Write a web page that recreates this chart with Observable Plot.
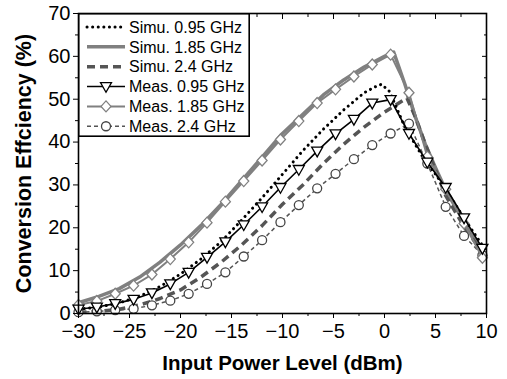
<!DOCTYPE html>
<html><head><meta charset="utf-8">
<script src="https://cdn.jsdelivr.net/npm/d3@7"></script>
<script src="https://cdn.jsdelivr.net/npm/@observablehq/plot@0.6"></script>
<style>
body{margin:0;background:#fff;font-family:"Liberation Sans",Arial,sans-serif;}
#wrap{position:relative;width:507px;height:379px;}
#legend{position:absolute;left:78px;top:12.5px;}
</style></head><body><div id="wrap"></div>
<script>
// ---- data ----
const measX = [-30, -28.2, -26.4, -24.6, -22.8, -21, -19.2, -17.4, -15.6, -13.8, -12, -10.2, -8.4, -6.6, -4.8, -3, -1.2, 0.6, 2.4, 4.2, 6, 7.8, 9.6];
const meas095 = [1.0, 1.5, 2.3, 3.3, 4.8, 6.9, 9.6, 13.1, 16.7, 20.7, 24.9, 29.4, 33.6, 37.9, 41.9, 45.3, 49.1, 49.9, 42.0, 35.3, 29.4, 22.3, 15.2];
const meas185 = [2.0, 2.9, 4.6, 6.5, 9.1, 12.7, 16.6, 21.2, 26.1, 30.9, 35.7, 40.6, 44.9, 49.1, 52.3, 55.3, 58.1, 60.4, 51.5, 36.6, 29.0, 21.0, 13.0];
const meas24  = [0.3, 0.5, 0.8, 1.1, 1.9, 3.0, 4.6, 6.9, 9.6, 13.3, 17.1, 21.3, 25.3, 29.2, 32.6, 36.0, 39.3, 42.0, 44.3, 35.0, 24.9, 18.1, 13.6];

const simu095X = [-30, -28, -26, -24, -22, -20, -18, -16, -14, -12, -10, -8, -6, -4, -2, -1, -0.3, 0.5, 1, 2, 3, 4, 5, 6, 8, 10];
const simu095  = [1.0, 1.5, 2.5, 4.0, 6.3, 9.2, 12.7, 16.8, 21.8, 27, 32.5, 38, 43, 47.5, 51.5, 52.8, 53.5, 51.8, 49, 43.5, 39.5, 35.5, 32.5, 29, 21.5, 14.5];
const simu185X = [-30, -28, -26, -24, -22, -20, -18, -16, -14, -12, -10, -8, -6, -4, -2, 0, 0.9, 2, 3, 4, 5, 6, 8, 10];
const simu185  = [2.5, 4, 5.8, 8.5, 12, 16, 20.5, 25.5, 31, 36.5, 42, 46.5, 51, 54.5, 57.5, 60, 61, 53.5, 46, 39.5, 34, 28.8, 20.5, 13.2];
const simu24X  = [-30, -28, -26, -24, -22, -20, -18, -16, -14, -12, -10, -8, -6, -4, -2, 0, 1, 2.2, 3, 4, 5, 6, 8, 10];
const simu24   = [0.3, 0.5, 1, 2, 3.5, 5.5, 8.5, 12, 16, 20.5, 25.5, 30, 35, 39.5, 43.5, 47, 48.5, 50.3, 46, 39.5, 33.5, 27.5, 19.5, 13];

const xTicks = [-30, -25, -20, -15, -10, -5, 0, 5, 10];
const xMinor = [-27.5, -22.5, -17.5, -12.5, -7.5, -2.5, 2.5, 7.5];
const yTicks = [0, 10, 20, 30, 40, 50, 60, 70];
const yMinor = [5, 15, 25, 35, 45, 55, 65];

const legendLabels = ["Simu. 0.95 GHz", "Simu. 1.85 GHz", "Simu. 2.4 GHz", "Meas. 0.95 GHz", "Meas. 1.85 GHz", "Meas. 2.4 GHz"];
const xTitle = "Input Power Level (dBm)";
const yTitle = "Conversion Effciency (%)";

// ---- styles ----
const GREY = "#808080", DARK = "#555555";
const triDown = {draw(ctx, size){const r=Math.sqrt(size/Math.PI); ctx.moveTo(-r*1.1,-r*0.8); ctx.lineTo(r*1.1,-r*0.8); ctx.lineTo(0,r*1.15); ctx.closePath();}};
const diam = {draw(ctx, size){const r=Math.sqrt(size/Math.PI); ctx.moveTo(0,-r*1.1); ctx.lineTo(r,0); ctx.lineTo(0,r*1.1); ctx.lineTo(-r,0); ctx.closePath();}};
const circ = {draw(ctx, size){const r=Math.sqrt(size/Math.PI)*0.9; ctx.moveTo(r,0); ctx.arc(0,0,r,0,2*Math.PI);}};

const zip = (xs, ys) => xs.map((x,i)=>({x, y: ys[i]}));
const s095 = zip(simu095X, simu095), s185 = zip(simu185X, simu185), s24 = zip(simu24X, simu24);
const m095 = zip(measX, meas095), m185 = zip(measX, meas185), m24 = zip(measX, meas24);

const series = [
  {label: legendLabels[0], stroke:"#000", width:3, dash:"0.1 5.5", cap:"round"},
  {label: legendLabels[1], stroke:GREY, width:3.5, dash:null, cap:"butt"},
  {label: legendLabels[2], stroke:DARK, width:3.5, dash:"8 5", cap:"butt"},
  {label: legendLabels[3], stroke:"#000", width:1.6, dash:null, cap:"butt", sym:triDown, mstroke:"#000"},
  {label: legendLabels[4], stroke:GREY, width:2, dash:null, cap:"butt", sym:diam, mstroke:GREY},
  {label: legendLabels[5], stroke:DARK, width:1.5, dash:"4 3", cap:"butt", sym:circ, mstroke:"#444"}
];
const lineOpts = s => ({x:"x", y:"y", stroke:s.stroke, strokeWidth:s.width, strokeDasharray:s.dash, strokeLinecap:s.cap});
const dotOpts = s => ({x:"x", y:"y", symbol:s.sym, r:5, fill:"white", stroke:s.mstroke, strokeWidth:1.3});

const chart = Plot.plot({
  width: 507, height: 379,
  marginLeft: 78, marginRight: 21, marginTop: 13, marginBottom: 66,
  style: {fontFamily: "Liberation Sans, Arial, sans-serif", fontSize: "20px", color: "black", background: "white", overflow: "visible"},
  x: {domain: [-30, 10]},
  y: {domain: [0, 70]},
  marks: [
    Plot.line(s185, lineOpts(series[1])),
    Plot.line(s24, lineOpts(series[2])),
    Plot.line(s095, lineOpts(series[0])),
    Plot.line(m24, lineOpts(series[5])),
    Plot.dot(m24, dotOpts(series[5])),
    Plot.line(m185, lineOpts(series[4])),
    Plot.dot(m185, dotOpts(series[4])),
    Plot.line(m095, lineOpts(series[3])),
    Plot.dot(m095, dotOpts(series[3])),
    Plot.axisX({ticks: xTicks, tickSize: 5, tickPadding: 5, fontSize: 20, label: null}),
    Plot.axisX({ticks: xMinor, tickSize: 3, tickFormat: () => "", label: null}),
    Plot.axisX({anchor: "top", ticks: xTicks, tickSize: -5, tickFormat: () => "", label: null}),
    Plot.axisX({anchor: "top", ticks: xMinor, tickSize: -3, tickFormat: () => "", label: null}),
    Plot.axisY({ticks: yTicks, tickSize: 5, tickPadding: 3, fontSize: 20, label: null}),
    Plot.axisY({ticks: yMinor, tickSize: 3, tickFormat: () => "", label: null}),
    Plot.axisY({anchor: "right", ticks: yTicks, tickSize: -5, tickFormat: () => "", label: null}),
    Plot.axisY({anchor: "right", ticks: yMinor, tickSize: -3, tickFormat: () => "", label: null}),
    Plot.axisX({ticks: [], label: xTitle, labelAnchor: "center", labelOffset: 56, labelArrow: "none", fontSize: 20.5, fontWeight: "bold"}),
    Plot.axisY({ticks: [], label: yTitle, labelAnchor: "center", labelOffset: 63, labelArrow: "none", fontSize: 21.5, fontWeight: "bold"}),
    Plot.frame({stroke: "black", strokeWidth: 1.6})
  ]
});
const wrap = document.getElementById("wrap");
wrap.appendChild(chart);

// ---- legend (inside plot frame, top-left) ----
const LW = 172, LH = 124, rowH = 19.85, y0 = 14;
const lg = d3.select(wrap).append("svg").attr("id","legend").attr("width", LW).attr("height", LH);
lg.append("rect").attr("x",0.8).attr("y",0.8).attr("width",LW-1.6).attr("height",LH-1.6).attr("fill","white").attr("stroke","black").attr("stroke-width",1.6);
series.forEach((s,i) => {
  const y = y0 + i*rowH;
  lg.append("line").attr("x1",9).attr("x2",47).attr("y1",y).attr("y2",y)
    .attr("stroke",s.stroke).attr("stroke-width",s.width).attr("stroke-dasharray",s.dash).attr("stroke-linecap",s.cap);
  if (s.sym) lg.append("path").attr("d", d3.symbol(s.sym, 25*Math.PI)()).attr("transform",`translate(28,${y})`)
    .attr("fill","white").attr("stroke",s.mstroke).attr("stroke-width",1.3);
  lg.append("text").attr("x",51).attr("y",y).attr("dy","0.36em").attr("font-size",16)
    .attr("font-family","Liberation Sans, Arial, sans-serif").attr("fill","black").text(s.label);
});
</script></body></html>
